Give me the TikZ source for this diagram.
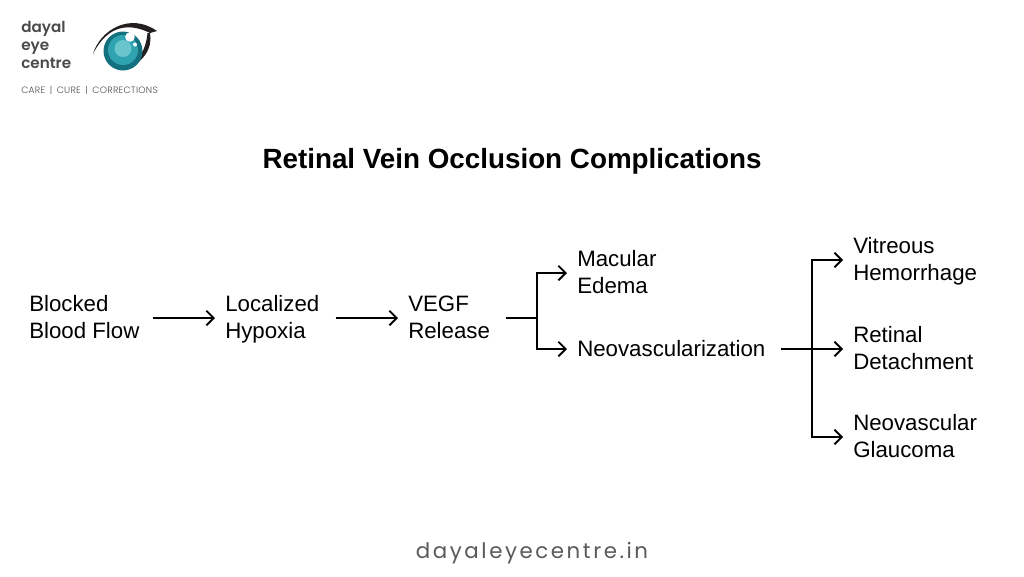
\documentclass[tikz,border=0pt]{standalone}
\usepackage{fontspec}
\usepackage{xcolor}
\usetikzlibrary{arrows.meta}
\setmainfont{Liberation Sans}
\newfontfamily\logofont{Poppins SemiBold}
\newfontfamily\tagfont[LetterSpace=3]{Poppins Light}
\newfontfamily\footfont[LetterSpace=12]{Poppins}
\definecolor{logotext}{HTML}{4A4A4A}
\definecolor{foottext}{HTML}{5A5A5A}
\definecolor{eyedark}{HTML}{13707F}
\definecolor{eyemid}{HTML}{2FA3B0}
\definecolor{eyelight}{HTML}{68C6CC}
\definecolor{lashcolor}{HTML}{231F20}
\tikzset{
    steplabel/.style={anchor=west,inner sep=0pt,align=left,font=\fontsize{16.7}{20.25}\selectfont,
        execute at begin node=\rule{0pt}{#1},execute at end node=\rule[-4pt]{0pt}{4pt}},
    steplabel/.default=35pt,
    flow/.style={-{Straight Barb[length=5.5pt,width=11pt,line width=1.4pt]},line width=1.4pt},
    branch/.style={line width=1.4pt},
}
\begin{document}
\begin{tikzpicture}[x=0.75pt,y=-0.75pt]
    \useasboundingbox (0,0) rectangle (1024,576);

    % logo
    \node[anchor=west,inner sep=0pt,align=left,text=logotext,font=\logofont\fontsize{11.4}{13.6}\selectfont] (logotitle) at (21,45) {dayal\\eye\\centre};
    \node[anchor=west,inner sep=0pt,text=logotext,font=\tagfont\fontsize{6.9}{8}\selectfont] (logotag) at (21,90.5) {CARE\,\,\,|\,\,\,CURE\,\,\,|\,\,\,CORRECTIONS};
    \fill[lashcolor] (93,54) .. controls (100,30) and (130,12) .. (157,31) -- (150,33) .. controls (130,23) and (108,24) .. (93,54) -- cycle;
    \fill[lashcolor] (150,33) .. controls (153,48) and (143,65) .. (123,68) .. controls (138,64) and (146,50) .. (147.5,33) -- cycle;
    \fill[eyedark] (123,51) circle (19.5);
    \fill[eyemid] (123,50) circle (15);
    \fill[eyelight] (123,48.5) circle (8.5);
    \fill[white] (130,37) circle (4.8);
    \fill[white] (135,44.5) circle (2);

    \node[anchor=center,inner sep=0pt,font=\fontsize{20.85}{24}\selectfont\bfseries] (title) at (512,161) {Retinal Vein Occlusion Complications};

    \node[steplabel] (blocked) at (29,318) {Blocked\\Blood Flow};
    \node[steplabel] (hypoxia) at (225,318) {Localized\\Hypoxia};
    \node[steplabel] (vegf) at (408,318) {VEGF\\Release};
    \node[steplabel] (edema) at (577,273) {Macular\\Edema};
    \node[steplabel=14.5pt] (neo) at (577,349) {Neovascularization};
    \node[steplabel] (vitreous) at (853,260) {Vitreous\\Hemorrhage};
    \node[steplabel] (retinal) at (853,349) {Retinal\\Detachment};
    \node[steplabel] (glaucoma) at (853,437) {Neovascular\\Glaucoma};

    \node[anchor=center,inner sep=0pt,text=foottext,font=\footfont\fontsize{16}{20}\selectfont] (site) at (532,553) {dayaleyecentre.in};

    % connectors
    \draw[flow] ([xshift=9.8pt]blocked.east) -- ([xshift=-7.5pt]hypoxia.west);
    \draw[flow] ([xshift=12pt]hypoxia.east) -- ([xshift=-7.5pt]vegf.west);
    \coordinate (vj) at (537,318);
    \coordinate (nj) at (812,349);
    \draw[branch] ([xshift=11.5pt]vegf.east) -- (vj);
    \draw[flow] (vj) |- ([xshift=-7.5pt]edema.west);
    \draw[flow] (vj) |- ([xshift=-7.5pt]neo.west);
    \draw[flow] ([xshift=11.5pt]neo.east) -- ([xshift=-7.5pt]retinal.west);
    \draw[flow] (nj) |- ([xshift=-7.5pt]vitreous.west);
    \draw[flow] (nj) |- ([xshift=-7.5pt]glaucoma.west);
\end{tikzpicture}
\end{document}
